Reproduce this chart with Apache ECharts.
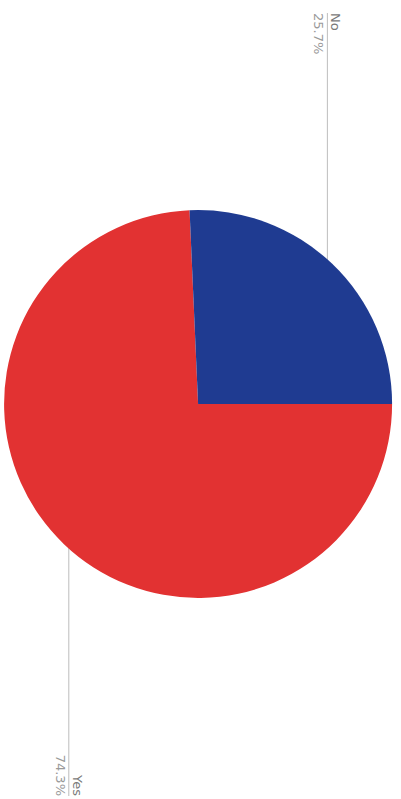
<!DOCTYPE html>
<html>
<head>
<meta charset="utf-8">
<script src="https://cdn.jsdelivr.net/npm/echarts@6/dist/echarts.min.js"></script>
<style>
  html, body { margin: 0; padding: 0; background: #ffffff; overflow: hidden; width: 401px; height: 799px; }
  #wrap { position: absolute; left: 0; top: 0; width: 799px; height: 401px;
          transform-origin: 0 0; transform: translate(401px, 0) rotate(90deg); }
</style>
</head>
<body>
<div id="wrap"></div>
<script>
const categories = ['Yes', 'No'];
const values = [74.3, 25.7];
const colors = ['#e23232', '#1f3b91'];

const chart = echarts.init(document.getElementById('wrap'), null, { renderer: 'svg' });
const centerPct = [0.5056, 0.506];

const option = {
  animation: false,
  backgroundColor: '#ffffff',
  series: [{
    type: 'pie',
    radius: 194,
    center: [(centerPct[0] * 100) + '%', (centerPct[1] * 100) + '%'],
    startAngle: 90,
    clockwise: true,
    silent: true,
    data: categories.map((c, i) => ({ name: c, value: values[i], itemStyle: { color: colors[i] } })),
    label: {
      show: true,
      position: 'outside',
      formatter: p => '{name|' + p.name + '}\n{value|' + p.value.toFixed(1) + '%}',
      rich: {
        name: { fontFamily: 'DejaVu Sans', fontSize: 13, color: '#7a7a7a', lineHeight: 17 },
        value: { fontFamily: 'DejaVu Sans', fontSize: 13, color: '#9a9a9a', lineHeight: 17 }
      }
    },
    labelLine: { show: true, length: 0, length2: 10, lineStyle: { color: '#bdbdbd', width: 1 } },
    labelLayout: function (params) {
      const W = chart.getWidth(), H = chart.getHeight();
      const cx = W * centerPct[0], cy = H * centerPct[1];
      const p0 = params.labelLinePoints[0];
      const dx = p0[0] - cx, dy = p0[1] - cy;
      const r = Math.hypot(dx, dy);
      const nr = r - 7;
      const start = [cx + dx * nr / r, cy + dy * nr / r];
      const isLeft = start[0] < cx;
      const endX = isLeft ? 13 : W - 3;
      return {
        x: endX,
        y: start[1],
        align: isLeft ? 'left' : 'right',
        verticalAlign: 'middle',
        labelLinePoints: [start, start, [endX, start[1]]]
      };
    }
  }]
};
chart.setOption(option);
</script>
</body>
</html>
